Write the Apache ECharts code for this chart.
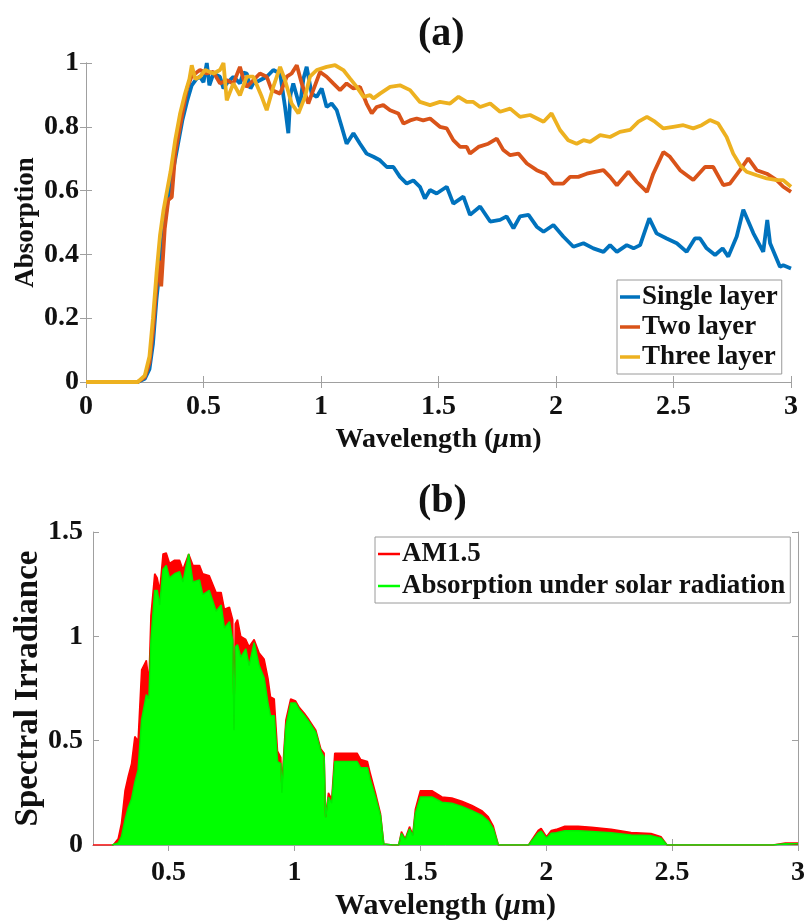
<!DOCTYPE html>
<html>
<head>
<meta charset="utf-8">
<script src="https://cdn.jsdelivr.net/npm/echarts@6/dist/echarts.min.js"></script>
<style>html,body{margin:0;padding:0;background:#fff}#c{width:808px;height:923px}</style>
</head>
<body>
<div id="c"></div>
<script>
// ---------- Panel (a): absorption ----------
const singleX = [0,0.22,0.25,0.27,0.285,0.30,0.32,0.335,0.35,0.37,0.39,0.41,0.43,0.45,0.47,0.485,0.50,0.514,0.525,0.542,0.57,0.585,0.599,0.627,0.655,0.67,0.684,0.70,0.712,0.74,0.769,0.797,0.826,0.847,0.861,0.870,0.882,0.91,0.925,0.939,0.96,0.982,1.003,1.024,1.045,1.067,1.088,1.109,1.138,1.166,1.194,1.223,1.251,1.28,1.308,1.336,1.365,1.393,1.421,1.442,1.464,1.492,1.535,1.563,1.606,1.634,1.677,1.72,1.762,1.79,1.819,1.847,1.883,1.918,1.947,1.989,2.031,2.074,2.117,2.159,2.202,2.23,2.259,2.301,2.33,2.358,2.397,2.428,2.471,2.514,2.556,2.591,2.613,2.641,2.677,2.709,2.733,2.769,2.797,2.84,2.882,2.899,2.911,2.953,2.967,3.0];
const singleY = [0,0,0.01,0.04,0.12,0.26,0.40,0.50,0.58,0.66,0.74,0.82,0.88,0.93,0.95,0.957,0.94,1.0,0.93,0.967,0.957,0.92,0.936,0.957,0.936,0.97,0.967,0.92,0.936,0.946,0.957,0.978,0.967,0.862,0.78,0.90,0.936,0.862,0.95,0.988,0.904,0.894,0.92,0.862,0.873,0.852,0.80,0.747,0.78,0.747,0.716,0.706,0.695,0.674,0.674,0.643,0.622,0.632,0.612,0.575,0.602,0.591,0.612,0.559,0.581,0.524,0.55,0.503,0.508,0.519,0.482,0.519,0.524,0.487,0.471,0.492,0.456,0.424,0.435,0.419,0.408,0.429,0.408,0.429,0.419,0.429,0.513,0.466,0.45,0.435,0.408,0.45,0.45,0.419,0.398,0.419,0.393,0.456,0.54,0.466,0.408,0.508,0.435,0.361,0.366,0.356];

const twoX = [0,0.22,0.25,0.27,0.285,0.30,0.31,0.32,0.335,0.35,0.365,0.38,0.40,0.415,0.43,0.45,0.47,0.485,0.514,0.542,0.57,0.599,0.627,0.655,0.67,0.684,0.712,0.74,0.769,0.79,0.826,0.854,0.875,0.897,0.918,0.946,0.967,0.996,1.024,1.052,1.081,1.109,1.138,1.166,1.194,1.216,1.237,1.265,1.294,1.329,1.351,1.379,1.407,1.435,1.464,1.506,1.535,1.563,1.592,1.62,1.634,1.67,1.712,1.748,1.776,1.805,1.84,1.876,1.918,1.954,1.989,2.031,2.06,2.095,2.131,2.166,2.202,2.23,2.259,2.308,2.344,2.387,2.414,2.457,2.485,2.528,2.584,2.634,2.669,2.712,2.74,2.783,2.818,2.854,2.897,2.939,2.967,3.0];
const twoY = [0,0,0.015,0.06,0.16,0.30,0.38,0.30,0.48,0.57,0.58,0.72,0.80,0.86,0.92,0.96,0.97,0.978,0.967,0.972,0.936,0.946,0.936,0.988,0.95,0.925,0.946,0.967,0.957,0.915,0.904,0.957,0.967,0.993,0.936,0.873,0.915,0.972,0.957,0.936,0.915,0.936,0.92,0.925,0.873,0.842,0.862,0.868,0.852,0.842,0.81,0.82,0.826,0.82,0.826,0.80,0.795,0.758,0.737,0.737,0.716,0.737,0.747,0.763,0.727,0.711,0.716,0.685,0.664,0.653,0.622,0.622,0.643,0.643,0.653,0.659,0.664,0.643,0.617,0.659,0.627,0.596,0.653,0.721,0.706,0.664,0.633,0.674,0.674,0.617,0.622,0.664,0.701,0.664,0.653,0.633,0.612,0.596];

const threeX = [0,0.22,0.25,0.27,0.285,0.30,0.315,0.33,0.345,0.36,0.38,0.40,0.42,0.44,0.45,0.465,0.485,0.507,0.542,0.57,0.585,0.599,0.627,0.655,0.684,0.712,0.748,0.769,0.797,0.826,0.847,0.875,0.904,0.932,0.953,0.982,1.024,1.06,1.095,1.124,1.152,1.181,1.209,1.223,1.251,1.294,1.336,1.379,1.421,1.464,1.506,1.549,1.585,1.62,1.648,1.677,1.72,1.762,1.805,1.847,1.89,1.947,1.981,2.017,2.052,2.088,2.117,2.145,2.188,2.23,2.272,2.315,2.351,2.387,2.421,2.457,2.499,2.542,2.584,2.62,2.655,2.69,2.726,2.754,2.783,2.811,2.854,2.897,2.939,2.967,3.0];
const threeY = [0,0,0.02,0.08,0.20,0.34,0.46,0.54,0.60,0.66,0.76,0.84,0.90,0.95,0.993,0.95,0.957,0.978,0.967,0.978,1.0,0.883,0.936,0.899,0.957,0.957,0.894,0.852,0.925,0.988,0.946,0.873,0.842,0.894,0.957,0.978,0.988,0.993,0.978,0.951,0.925,0.894,0.899,0.889,0.904,0.925,0.93,0.915,0.878,0.868,0.878,0.873,0.894,0.878,0.878,0.862,0.873,0.847,0.857,0.831,0.837,0.816,0.842,0.79,0.758,0.747,0.758,0.753,0.774,0.768,0.784,0.79,0.816,0.831,0.816,0.795,0.80,0.805,0.795,0.805,0.821,0.81,0.768,0.716,0.68,0.659,0.648,0.638,0.633,0.633,0.612];

// ---------- Panel (b): spectral irradiance ----------
const am15X = [0.20,0.28,0.30,0.313,0.327,0.340,0.353,0.366,0.379,0.393,0.412,0.422,0.430,0.445,0.455,0.465,0.478,0.491,0.504,0.524,0.544,0.557,0.580,0.597,0.623,0.636,0.662,0.689,0.709,0.722,0.742,0.755,0.760,0.765,0.774,0.787,0.807,0.820,0.840,0.860,0.880,0.895,0.905,0.920,0.933,0.946,0.950,0.958,0.966,0.985,1.005,1.019,1.040,1.058,1.085,1.105,1.118,1.124,1.135,1.148,1.160,1.164,1.203,1.249,1.263,1.290,1.302,1.322,1.342,1.355,1.39,1.414,1.425,1.44,1.457,1.47,1.48,1.50,1.546,1.586,1.625,1.665,1.705,1.744,1.77,1.79,1.81,1.93,1.94,1.968,1.98,2.001,2.02,2.04,2.074,2.127,2.18,2.258,2.337,2.416,2.456,2.48,2.90,2.95,3.0];
const am15Y = [0,0,0.03,0.105,0.26,0.33,0.39,0.52,0.50,0.84,0.885,0.78,1.10,1.30,1.28,1.22,1.395,1.40,1.35,1.365,1.365,1.32,1.395,1.34,1.34,1.30,1.29,1.21,1.21,1.13,1.14,1.08,0.62,1.06,1.08,1.00,0.985,0.95,0.985,0.92,0.89,0.80,0.71,0.70,0.45,0.42,0.28,0.45,0.60,0.70,0.69,0.66,0.63,0.60,0.55,0.46,0.44,0.135,0.25,0.22,0.44,0.44,0.44,0.44,0.41,0.40,0.34,0.25,0.15,0.005,0,0,0.064,0.03,0.088,0.05,0.17,0.26,0.26,0.23,0.225,0.21,0.19,0.165,0.135,0.09,0,0,0.02,0.07,0.08,0.04,0.07,0.075,0.09,0.09,0.085,0.076,0.06,0.055,0.04,0,0,0.01,0.01];

const absX = [0.275,0.30,0.313,0.327,0.340,0.353,0.366,0.379,0.393,0.412,0.422,0.430,0.445,0.455,0.465,0.478,0.491,0.504,0.524,0.544,0.557,0.580,0.597,0.623,0.636,0.662,0.689,0.709,0.722,0.742,0.755,0.760,0.765,0.774,0.787,0.807,0.820,0.840,0.860,0.880,0.895,0.905,0.920,0.933,0.946,0.950,0.958,0.966,0.985,1.005,1.019,1.040,1.058,1.085,1.105,1.118,1.124,1.135,1.148,1.160,1.164,1.203,1.249,1.263,1.290,1.302,1.322,1.342,1.355,1.39,1.414,1.425,1.44,1.457,1.47,1.48,1.50,1.546,1.586,1.625,1.665,1.705,1.744,1.77,1.79,1.81,1.93,1.94,1.968,1.98,2.001,2.02,2.04,2.074,2.127,2.18,2.258,2.337,2.416,2.456,2.48,2.90,2.95,3.0];
const absY = [0,0.01,0.04,0.12,0.18,0.22,0.30,0.36,0.60,0.72,0.70,0.98,1.22,1.22,1.15,1.32,1.34,1.28,1.30,1.31,1.26,1.395,1.26,1.27,1.20,1.22,1.12,1.15,1.04,1.07,0.98,0.55,0.95,0.96,0.90,0.94,0.86,0.97,0.86,0.80,0.68,0.62,0.62,0.40,0.39,0.25,0.42,0.57,0.68,0.68,0.65,0.62,0.59,0.54,0.45,0.42,0.13,0.23,0.20,0.40,0.40,0.40,0.40,0.37,0.37,0.31,0.23,0.14,0.005,0,0,0.056,0.026,0.077,0.044,0.15,0.23,0.23,0.205,0.20,0.185,0.165,0.142,0.115,0.077,0,0,0.016,0.058,0.066,0.033,0.056,0.059,0.068,0.068,0.065,0.059,0.048,0.045,0.032,0,0,0.006,0.006];

const xTicksB = [0.5,1,1.5,2,2.5,3];

const pairs = (xs, ys) => xs.map((x, i) => [x, ys[i]]);

const FONT = 'Liberation Serif';
const AXC = '#a0a0a0';
const TXT = '#111';

function lbl(size, extra) {
  return Object.assign({ fontFamily: FONT, fontWeight: 'bold', fontSize: size, color: TXT }, extra || {});
}
function nameStyle(size) {
  return lbl(size, { rich: { mu: { fontFamily: FONT, fontWeight: 'bold', fontStyle: 'italic', fontSize: size, color: TXT } } });
}
const axLine = { show: true, lineStyle: { color: AXC, width: 1 } };
const tickIn = { show: true, inside: true, length: 6, lineStyle: { color: AXC } };

const chart = echarts.init(document.getElementById('c'), null, { renderer: 'canvas' });
chart.setOption({
  animation: false,
  backgroundColor: '#fff',
  title: [
    { text: '(a)', left: 413, top: 10, textStyle: lbl(40) },
    { text: '(b)', left: 413, top: 477, textStyle: lbl(40) }
  ],
  grid: [
    { left: 86, top: 63, right: 17, height: 319 },
    { left: 93, top: 532, right: 7, height: 313 }
  ],
  legend: [
    {
      data: ['Single layer', 'Two layer', 'Three layer'],
      orient: 'vertical', left: 617, top: 280,
      icon: 'rect', itemWidth: 20, itemHeight: 3.5, itemGap: 2,
      padding: [3, 4, 3, 3],
      borderColor: '#9a9a9a', borderWidth: 1, backgroundColor: '#fff',
      textStyle: lbl(27, { lineHeight: 28, padding: [0, 0, 0, -3] })
    },
    {
      data: ['AM1.5', 'Absorption under solar radiation'],
      orient: 'vertical', left: 375, top: 537,
      icon: 'rect', itemWidth: 22, itemHeight: 2.5, itemGap: 2,
      padding: [2, 5, 2, 3],
      borderColor: '#9a9a9a', borderWidth: 1, backgroundColor: '#fff',
      textStyle: lbl(27, { lineHeight: 30, padding: [0, 0, 0, -3] })
    }
  ],
  xAxis: [
    {
      gridIndex: 0, type: 'value', min: 0, max: 3, interval: 0.5,
      axisLine: axLine, axisTick: tickIn, splitLine: { show: false },
      axisLabel: lbl(28, { margin: 11 }),
      name: 'Wavelength ({mu|μ}m)', nameLocation: 'middle', nameGap: 44,
      nameTextStyle: nameStyle(28)
    },
    {
      gridIndex: 0, type: 'value', position: 'top', min: 0, max: 3, interval: 0.5,
      axisLine: axLine, axisTick: tickIn, axisLabel: { show: false }, splitLine: { show: false }
    },
    {
      gridIndex: 1, type: 'value', min: 0.2, max: 3,
      axisLine: axLine, splitLine: { show: false },
      axisTick: Object.assign({}, tickIn, { customValues: xTicksB }),
      axisLabel: lbl(28, { margin: 14, customValues: xTicksB }),
      name: 'Wavelength ({mu|μ}m)', nameLocation: 'middle', nameGap: 46,
      nameTextStyle: nameStyle(30)
    },
    {
      gridIndex: 1, type: 'value', position: 'top', min: 0.2, max: 3,
      axisLine: axLine, splitLine: { show: false },
      axisTick: Object.assign({}, tickIn, { customValues: xTicksB }),
      axisLabel: { show: false }
    }
  ],
  yAxis: [
    {
      gridIndex: 0, type: 'value', min: 0, max: 1, interval: 0.2,
      axisLine: axLine, axisTick: tickIn, splitLine: { show: false },
      axisLabel: lbl(28, { margin: 7 }),
      name: 'Absorption', nameLocation: 'middle', nameGap: 46, nameMoveOverlap: false,
      nameTextStyle: lbl(27)
    },
    {
      gridIndex: 0, type: 'value', position: 'right', min: 0, max: 1, interval: 0.2,
      axisLine: axLine, axisTick: tickIn, axisLabel: { show: false }, splitLine: { show: false }
    },
    {
      gridIndex: 1, type: 'value', min: 0, max: 1.5, interval: 0.5,
      axisLine: axLine, axisTick: tickIn, splitLine: { show: false },
      axisLabel: lbl(28, { margin: 10 }),
      name: 'Spectral Irradiance', nameLocation: 'middle', nameGap: 48, nameMoveOverlap: false,
      nameTextStyle: lbl(33)
    },
    {
      gridIndex: 1, type: 'value', position: 'right', min: 0, max: 1.5, interval: 0.5,
      axisLine: axLine, axisTick: tickIn, axisLabel: { show: false }, splitLine: { show: false }
    }
  ],
  series: [
    {
      name: 'Single layer', type: 'line', xAxisIndex: 0, yAxisIndex: 0,
      data: pairs(singleX, singleY), showSymbol: false, clip: false,
      lineStyle: { color: '#0072BD', width: 3.8 }, itemStyle: { color: '#0072BD' }
    },
    {
      name: 'Two layer', type: 'line', xAxisIndex: 0, yAxisIndex: 0,
      data: pairs(twoX, twoY), showSymbol: false, clip: false,
      lineStyle: { color: '#D95319', width: 3.8 }, itemStyle: { color: '#D95319' }
    },
    {
      name: 'Three layer', type: 'line', xAxisIndex: 0, yAxisIndex: 0,
      data: pairs(threeX, threeY), showSymbol: false, clip: false,
      lineStyle: { color: '#EDB120', width: 3.8 }, itemStyle: { color: '#EDB120' }
    },
    {
      name: 'AM1.5', type: 'line', xAxisIndex: 2, yAxisIndex: 2,
      data: pairs(am15X, am15Y), showSymbol: false,
      lineStyle: { color: '#ff0000', width: 1.5 }, itemStyle: { color: '#ff0000' },
      areaStyle: { color: '#ff0000', opacity: 1 }
    },
    {
      name: 'Absorption under solar radiation', type: 'line', xAxisIndex: 2, yAxisIndex: 2,
      data: pairs(absX, absY), showSymbol: false,
      lineStyle: { color: '#00ee00', width: 1.5 }, itemStyle: { color: '#00ff00' },
      areaStyle: { color: '#00ff00', opacity: 1 }
    }
  ]
});
</script>
</body>
</html>
